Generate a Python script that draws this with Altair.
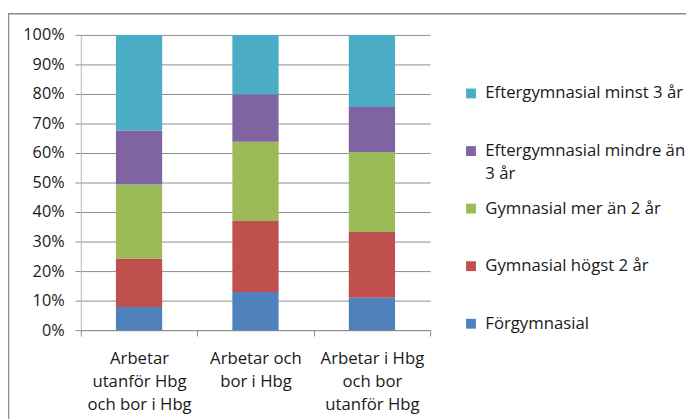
import altair as alt
import pandas as pd

categories = [
    "Arbetar\nutanför Hbg\noch bor i Hbg",
    "Arbetar och\nbor i Hbg",
    "Arbetar i Hbg\noch bor\nutanför Hbg",
]
levels = [
    "Förgymnasial",
    "Gymnasial högst 2 år",
    "Gymnasial mer än 2 år",
    "Eftergymnasial mindre än 3 år",
    "Eftergymnasial minst 3 år",
]
colors = ["#4F81BD", "#C0504D", "#9BBB59", "#8064A2", "#4BACC6"]
# share (%) per category, bottom to top
forgymnasial = [7.8, 12.9, 11.0]
gym_hogst2 = [16.5, 24.1, 22.2]
gym_mer2 = [25.0, 26.8, 27.1]
efter_mindre3 = [18.3, 16.1, 15.3]
efter_minst3 = [32.4, 20.1, 24.4]
y_ticks = [0, 0.1, 0.2, 0.3, 0.4, 0.5, 0.6, 0.7, 0.8, 0.9, 1.0]

series = [forgymnasial, gym_hogst2, gym_mer2, efter_mindre3, efter_minst3]
rows = []
for li, (lvl, vals) in enumerate(zip(levels, series)):
    for cat, v in zip(categories, vals):
        rows.append({"cat": cat, "level": lvl, "value": v, "rank": li})
df = pd.DataFrame(rows)

FONT = "Open Sans"
FS = 17
TXT = "#1a1a1a"

legend_order = list(reversed(levels))
legend_colors = list(reversed(colors))

bars = alt.Chart(df).mark_bar(size=47).encode(
    x=alt.X(
        "cat:N",
        sort=categories,
        title=None,
        scale=alt.Scale(paddingInner=0, paddingOuter=0),
        axis=alt.Axis(
            labelAngle=0,
            labelExpr="split(datum.label, '\\n')",
            labelLineHeight=23.5,
            labelFont=FONT,
            labelFontSize=FS,
            labelColor=TXT,
            labelPadding=15,
            tickBand="extent",
            tickSize=6,
            tickColor="#8c8c8c",
            domainColor="#8c8c8c",
            grid=False,
        ),
    ),
    y=alt.Y(
        "value:Q",
        stack="normalize",
        title=None,
        scale=alt.Scale(domain=[0, 1], nice=False),
        axis=alt.Axis(
            values=y_ticks,
            format=".0%",
            labelFont=FONT,
            labelFontSize=16.5,
            labelColor=TXT,
            labelPadding=11,
            tickSize=6,
            tickColor="#8c8c8c",
            domainColor="#b8b8b8",
            gridColor="#8c8c8c",
            grid=True,
        ),
    ),
    color=alt.Color(
        "level:N",
        scale=alt.Scale(domain=legend_order, range=legend_colors),
        legend=alt.Legend(
            title=None,
            orient="none",
            legendX=388,
            legendY=51,
            symbolType="square",
            symbolSize=100,
            symbolStrokeWidth=0,
            labelFont=FONT,
            labelFontSize=FS,
            labelColor=TXT,
            labelOffset=6,
            labelLimit=400,
            rowPadding=17.5,
            gridAlign="all",
            labelExpr="datum.label == 'Eftergymnasial mindre än 3 år' ? ['Eftergymnasial mindre än', '3 år'] : datum.label",
        ),
    ),
    order=alt.Order("rank:Q", sort="ascending"),
)

frame = alt.Chart(pd.DataFrame({"k": [0]})).mark_rect(
    fillOpacity=0, stroke="#8c8c8c", strokeWidth=1.5
).encode(
    x=alt.value(-73.5), x2=alt.value(700), y=alt.value(-21.5), y2=alt.value(600)
)

chart = alt.layer(frame, bars).properties(
    width=355,
    height=300,
    autosize=alt.AutoSizeParams(type="none"),
    padding={"left": 74, "top": 24, "right": 260, "bottom": 90},
).configure(
    style={"guide-label": {"lineHeight": 23}}
).configure_view(strokeWidth=0)

chart.save("out.html", embed_options={"renderer": "svg", "actions": False})
